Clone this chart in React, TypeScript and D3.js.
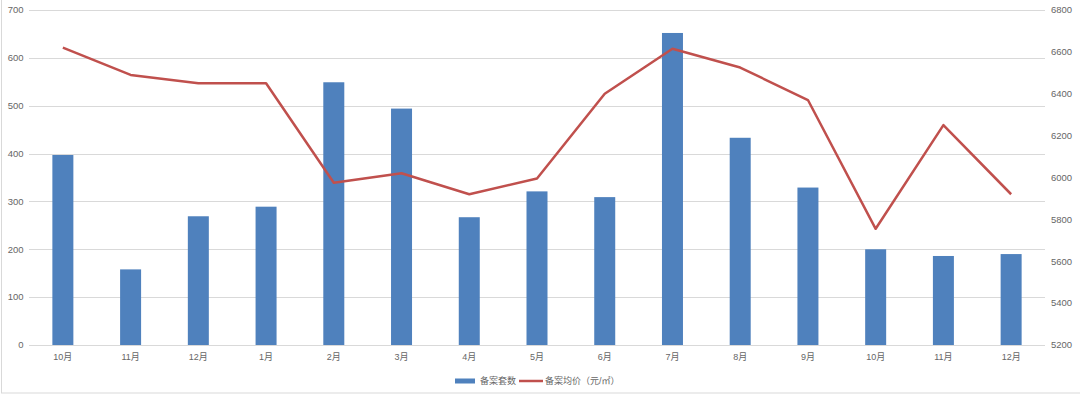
import React, { useEffect, useRef } from 'react';
import * as d3 from 'd3';

const months = ['10月', '11月', '12月', '1月', '2月', '3月', '4月', '5月', '6月', '7月', '8月', '9月', '10月', '11月', '12月'];
const units = [397, 158, 269, 289, 549, 494, 267, 321, 309, 652, 433, 329, 200, 186, 190];
const prices = [6620, 6490, 6450, 6450, 5975, 6020, 5920, 5995, 6400, 6615, 6525, 6370, 5755, 6250, 5920];
const leftTicks = [0, 100, 200, 300, 400, 500, 600, 700];
const rightTicks = [5200, 5400, 5600, 5800, 6000, 6200, 6400, 6600, 6800];
const legendLabels = ['备案套数', '备案均价（元/㎡）'];

const App = () => {
    const ref = useRef<SVGSVGElement>(null);

    useEffect(() => {
        drawChart();
    }, []);

    const drawChart = () => {
        const width = 1080, height = 396;
        const left = 29, right = 1045, top = 10, bottom = 345;
        const font = '"Liberation Sans", "Noto Sans CJK SC", sans-serif';

        const svg = d3.select(ref.current)
            .attr('width', width)
            .attr('height', height);
        svg.selectAll('*').remove();

        svg.append('rect')
            .attr('width', width)
            .attr('height', height)
            .style('fill', '#fff');

        // outer chart frame
        svg.append('rect')
            .attr('x', 1.5)
            .attr('y', -2)
            .attr('width', width + 2)
            .attr('height', 395)
            .style('fill', 'none')
            .style('stroke', '#d9d9d9');

        const x = d3.scaleBand<number>()
            .domain(d3.range(months.length))
            .range([left, right])
            .paddingInner(0.69)
            .paddingOuter(0.345);
        const yL = d3.scaleLinear().domain([0, 700]).range([bottom, top]);
        const yR = d3.scaleLinear().domain([5200, 6800]).range([bottom, top]);

        svg.append('g')
            .selectAll('line')
            .data(leftTicks)
            .enter()
            .append('line')
            .attr('x1', left)
            .attr('x2', right)
            .attr('y1', d => Math.round(yL(d)) + 0.5)
            .attr('y2', d => Math.round(yL(d)) + 0.5)
            .style('stroke', '#d9d9d9')
            .style('stroke-width', 1);

        svg.append('g')
            .selectAll('text')
            .data(leftTicks)
            .enter()
            .append('text')
            .attr('x', 23.5)
            .attr('y', d => yL(d))
            .attr('dy', '0.35em')
            .style('text-anchor', 'end')
            .style('font-family', font)
            .style('font-size', '9.5px')
            .style('fill', '#666')
            .text(d => d);

        svg.append('g')
            .selectAll('text')
            .data(rightTicks)
            .enter()
            .append('text')
            .attr('x', 1051)
            .attr('y', d => yR(d))
            .attr('dy', '0.35em')
            .style('text-anchor', 'start')
            .style('font-family', font)
            .style('font-size', '9.5px')
            .style('fill', '#666')
            .text(d => d);

        svg.append('g')
            .selectAll('rect')
            .data(units)
            .enter()
            .append('rect')
            .attr('x', (d, i) => x(i)!)
            .attr('y', d => yL(d))
            .attr('width', x.bandwidth())
            .attr('height', d => bottom - yL(d))
            .style('fill', '#4f81bd');

        const line = d3.line<number>()
            .x((d, i) => x(i)! + x.bandwidth() / 2)
            .y(d => yR(d));

        svg.append('path')
            .datum(prices)
            .attr('d', line)
            .style('fill', 'none')
            .style('stroke', '#c0504d')
            .style('stroke-width', 2.5)
            .style('stroke-linejoin', 'round');

        svg.append('g')
            .selectAll('text')
            .data(months)
            .enter()
            .append('text')
            .attr('x', (d, i) => x(i)! + x.bandwidth() / 2)
            .attr('y', 357)
            .attr('dy', '0.35em')
            .style('text-anchor', 'middle')
            .style('font-family', font)
            .style('font-size', '9px')
            .style('fill', '#666')
            .text(d => d);

        // legend
        const lg = svg.append('g').attr('transform', 'translate(0,381)');
        lg.append('rect')
            .attr('x', 455)
            .attr('y', -2.5)
            .attr('width', 20)
            .attr('height', 5)
            .style('fill', '#4f81bd');
        lg.append('text')
            .attr('x', 480)
            .attr('dy', '0.35em')
            .style('font-family', font)
            .style('font-size', '9px')
            .style('fill', '#666')
            .text(legendLabels[0]);
        lg.append('line')
            .attr('x1', 519)
            .attr('x2', 543)
            .style('stroke', '#c0504d')
            .style('stroke-width', 2.5);
        lg.append('text')
            .attr('x', 545)
            .attr('dy', '0.35em')
            .style('font-family', font)
            .style('font-size', '9px')
            .style('fill', '#666')
            .text(legendLabels[1]);
    };

    return <svg ref={ref} style={{ position: 'absolute', left: 0, top: 0 }}></svg>;
};

export default App;
